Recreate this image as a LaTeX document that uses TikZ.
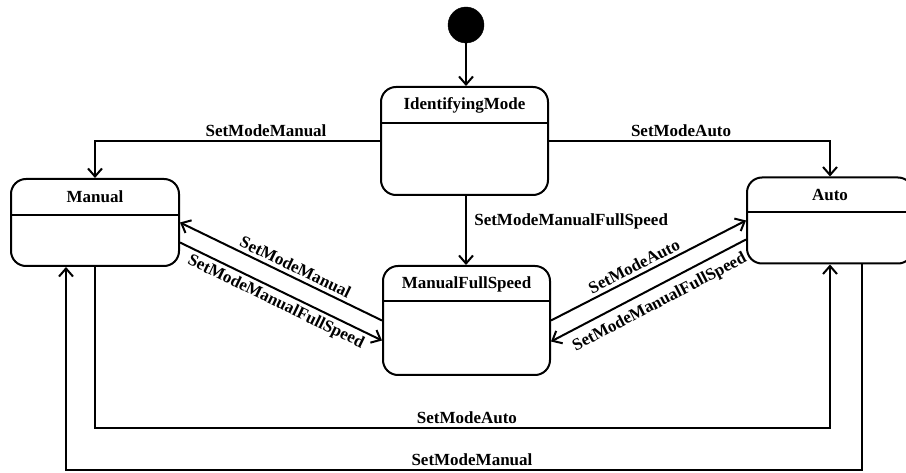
\documentclass[tikz,border=0pt]{standalone}
\usepackage{fontspec}
\setmainfont{Liberation Serif}
\usetikzlibrary{calc}
\usetikzlibrary{arrows.meta}
\tikzset{
	% Two node styles for the state chart: start point and state box
	start node/.style={circle,draw,fill=black,minimum size=36pt,inner sep=0},
	state node/.style={rectangle,draw,rounded corners=15pt,line width=2pt,inner sep=0},
	trans/.style={line width=2pt,>={Straight Barb[length=8pt,width=14pt]}}
}

\begin{document}
\begin{tikzpicture}[x=1pt,y=-1pt,font=\fontsize{17}{19}\selectfont\bfseries]
			% macros for the name of a state and the line below it
			\newcommand{\statename}[3]{\node at($(#1.north)+(0,#2)$){#3};}
			\newcommand{\statebar}[2]{\draw[line width=2pt]($(#1.north west)+(0,#2)$)--($(#1.north east)+(0,#2)$);}
			
			\useasboundingbox (0,0) rectangle (906,473);
			
			\node(start)[start node] at (466,25){};
			\node(ident)[state node,minimum width=167pt,minimum height=108pt] at (464.5,141){};
			\node(man)[state node,minimum width=168pt,minimum height=87pt] at (95,222.5){};
			\node(mfs)[state node,minimum width=167pt,minimum height=109pt] at (466.5,320.5){};
			\node(auto)[state node,minimum width=166pt,minimum height=86pt] at (830,220.5){};
			
			\statename{ident}{19}{IdentifyingMode}
			\statename{man}{19}{Manual}
			\statename{mfs}{19}{ManualFullSpeed}
			\statename{auto}{18}{Auto}
			\statebar{ident}{37}
			\statebar{man}{37}
			\statebar{mfs}{36}
			\statebar{auto}{36}
			
			% transitions from the start and from IdentifyingMode
			\draw[trans,->](start)--(start.south|-ident.north);
			\draw[trans,->](ident.west)-|node[pos=0.2,above]{SetModeManual}(man.north);
			\draw[trans,->](ident.east)-|node[pos=0.235,above]{SetModeAuto}(auto.north);
			\draw[trans,->](start.south|-ident.south)--node[pos=0.37,right=4pt]{SetModeManualFullSpeed}(start.south|-mfs.north);
			
			% Manual <-> ManualFullSpeed
			\draw[trans,<-](man.east)--node[pos=0.55,sloped,above]{SetModeManual}(mfs.west);
			\draw[trans,->]($(man.east)+(0,20)$)--node[pos=0.5,sloped,below]{SetModeManualFullSpeed}($(mfs.west)+(0,20)$);
			
			% ManualFullSpeed <-> Auto
			\draw[trans,->](mfs.east)--node[pos=0.45,sloped,above]{SetModeAuto}(auto.west);
			\draw[trans,<-]($(mfs.east)+(0,21)$)--node[pos=0.52,sloped,below=4pt]{SetModeManualFullSpeed}($(auto.west)+(0,19)$);
			
			% Manual <-> Auto along the bottom
			\coordinate(lowA) at (0,428);
			\coordinate(lowB) at (0,470);
			\coordinate(autoOut) at ($(auto.south)+(32,0)$);
			\coordinate(manIn) at ($(man.south)+(-29,0)$);
			\draw[trans,->](man.south)--(man.south|-lowA)-|node[pos=0.253,above]{SetModeAuto}(auto.south);
			\draw[trans,->](autoOut)--(autoOut|-lowB)-|node[pos=0.245,above]{SetModeManual}(manIn);
		\end{tikzpicture}
\end{document}
